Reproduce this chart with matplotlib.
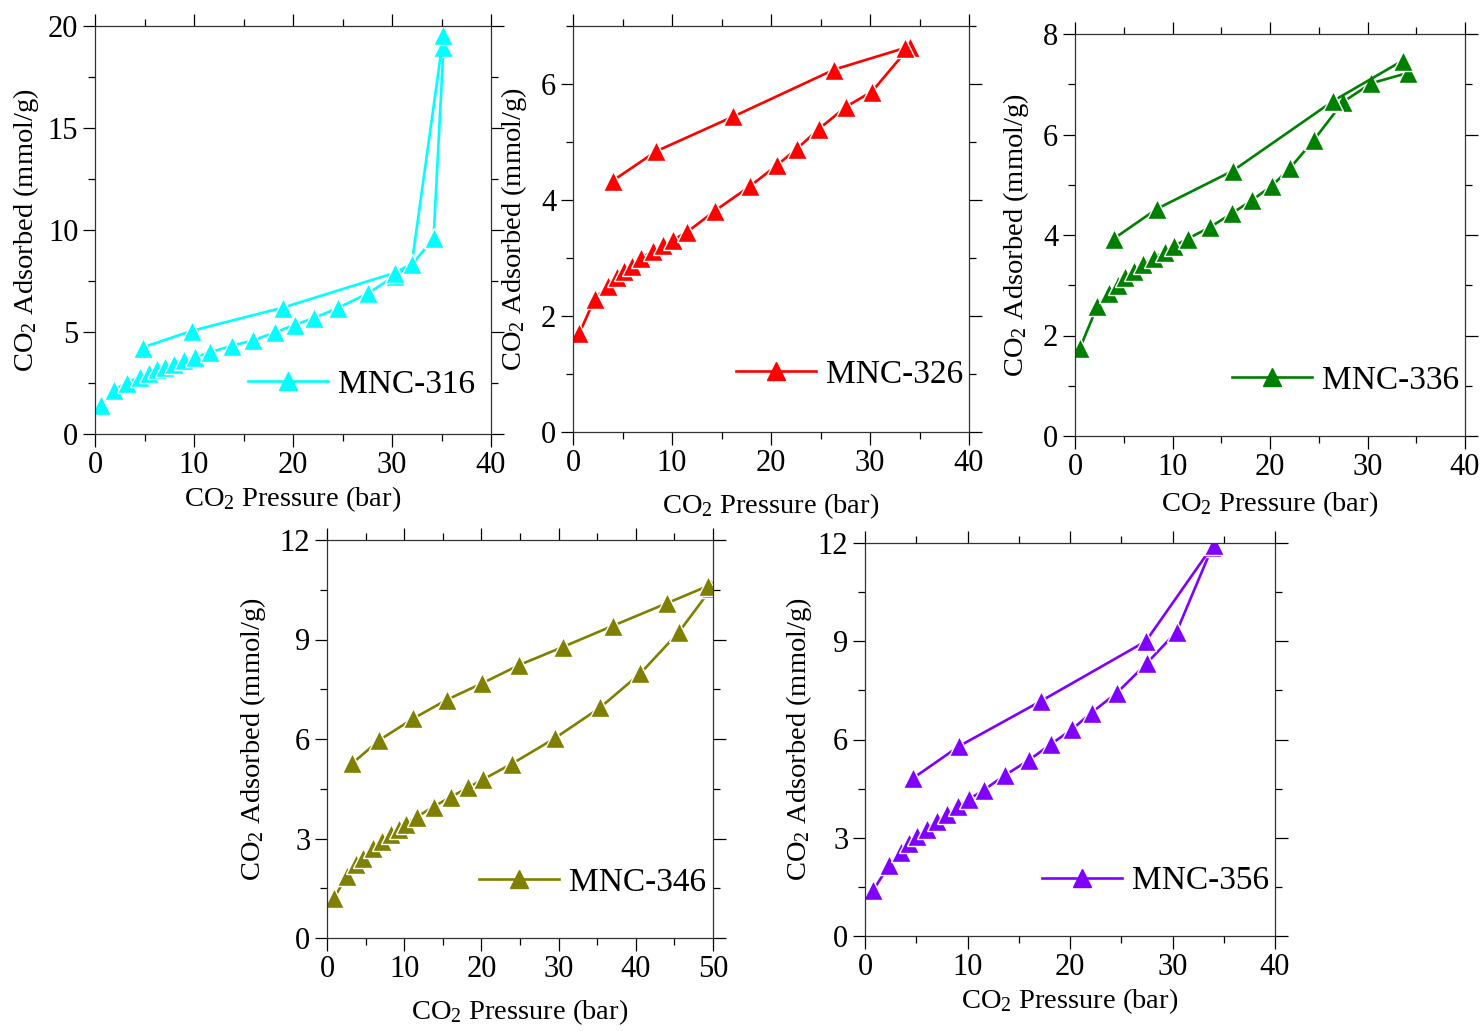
import matplotlib
matplotlib.use("Agg")
import matplotlib.pyplot as plt
from matplotlib.ticker import MultipleLocator

plt.rcParams['font.family'] = ['Liberation Serif', 'DejaVu Serif']
plt.rcParams['mathtext.fontset'] = 'custom'
plt.rcParams['mathtext.rm'] = 'Liberation Serif'
plt.rcParams['mathtext.it'] = 'Liberation Serif:italic'

# MNC-316 (cyan)
p316_ads = [0.6, 1.95, 3.2, 4.5, 5.5, 6.3, 7.1, 8.0, 9.0, 10.1, 11.6, 13.8, 16.0,
            18.2, 20.2, 22.1, 24.5, 27.6, 30.3, 32.0, 34.2, 35.2]
q316_ads = [1.4, 2.15, 2.52, 2.8, 3.0, 3.18, 3.3, 3.45, 3.62, 3.75, 4.0, 4.32, 4.6,
            4.98, 5.36, 5.68, 6.17, 6.9, 7.76, 8.29, 9.6, 18.95]
p316_des = [35.2, 32.0, 30.3, 19.0, 9.8, 4.8]
q316_des = [19.55, 8.35, 7.9, 6.2, 5.06, 4.24]

# MNC-326 (red)
p326_ads = [0.64, 2.2, 3.5, 4.4, 5.15, 6.0, 6.9, 8.05, 9.06, 10.07, 11.55, 14.3,
            17.9, 20.6, 22.6, 24.8, 27.6, 30.2, 34.0]
q326_ads = [1.70, 2.30, 2.51, 2.68, 2.77, 2.86, 3.0, 3.12, 3.22, 3.31, 3.45, 3.81,
            4.24, 4.6, 4.88, 5.22, 5.61, 5.87, 6.64]
p326_des = [33.5, 26.4, 16.2, 8.4, 4.0]
q326_des = [6.62, 6.25, 5.44, 4.84, 4.33]

# MNC-336 (green)
p336_ads = [0.51, 2.3, 3.5, 4.4, 5.1, 6.1, 7.0, 8.1, 9.2, 10.15, 11.6, 13.8, 16.1,
            18.2, 20.2, 22.05, 24.5, 27.5, 30.4, 34.2]
q336_ads = [1.75, 2.59, 2.85, 3.0, 3.16, 3.29, 3.42, 3.54, 3.67, 3.78, 3.93, 4.15,
            4.43, 4.70, 4.98, 5.33, 5.89, 6.65, 7.02, 7.23]
p336_des = [33.6, 26.5, 16.2, 8.4, 4.0]
q336_des = [7.47, 6.67, 5.28, 4.52, 3.93]

# MNC-346 (olive)
p346_ads = [0.95, 2.6, 3.76, 4.7, 6.0, 7.16, 8.3, 9.3, 10.2, 11.7, 13.8, 16.1, 18.3,
            20.2, 24.0, 29.5, 35.4, 40.6, 45.6, 49.8]
q346_ads = [1.22, 1.88, 2.22, 2.42, 2.70, 2.93, 3.14, 3.29, 3.44, 3.66, 3.96, 4.26,
            4.54, 4.78, 5.26, 6.02, 6.95, 7.98, 9.23, 10.54]
p346_des = [49.3, 44.1, 37.1, 30.6, 24.9, 20.1, 15.5, 11.2, 6.8, 3.3]
q346_des = [10.61, 10.1, 9.42, 8.78, 8.23, 7.68, 7.18, 6.62, 5.97, 5.27]

# MNC-356 (violet)
p356_ads = [0.81, 2.37, 3.5, 4.3, 5.1, 6.0, 7.0, 8.0, 9.1, 10.1, 11.6, 13.7, 16.0,
            18.1, 20.2, 22.1, 24.6, 27.5, 30.4, 33.9]
q356_ads = [1.40, 2.17, 2.57, 2.83, 3.05, 3.28, 3.51, 3.73, 3.97, 4.17, 4.46, 4.92,
            5.37, 5.85, 6.31, 6.82, 7.43, 8.33, 9.29, 11.89]
p356_des = [34.0, 27.4, 17.2, 9.2, 4.65]
q356_des = [11.95, 9.0, 7.18, 5.8, 4.81]

fig = plt.figure(figsize=(14.82, 10.31), dpi=100)

W, H = 1482, 1031


def make_axes(l, r, t, b):
    return fig.add_axes([l / W, 1 - b / H, (r - l) / W, (b - t) / H])


panels = [
    # name, color, data, box(px), xlim, ylim, ymaj, ymin, ylabel_x, xlabel_y, legend anchor
    ("MNC-316", "#00FFFF", (p316_ads, q316_ads, p316_des, q316_des),
     (95, 491, 26, 434), 40, 20, 5, 2.5, -0.136, -0.123, (1.01, 0.035)),
    ("MNC-326", "#FF0000", (p326_ads, q326_ads, p326_des, q326_des),
     (573, 969, 26, 432), 40, 7, 2, 1, -0.111, -0.145, (1.035, 0.055)),
    ("MNC-336", "#008000", (p336_ads, q336_ads, p336_des, q336_des),
     (1075, 1465, 34, 436), 40, 8, 2, 1, -0.113, -0.132, (1.035, 0.05)),
    ("MNC-346", "#808000", (p346_ads, q346_ads, p346_des, q346_des),
     (327, 713, 540, 938), 50, 12, 3, 1.5, -0.153, -0.148, (1.035, 0.05)),
    ("MNC-356", "#8000FF", (p356_ads, q356_ads, p356_des, q356_des),
     (865, 1275, 543, 936), 40, 12, 3, 1.5, -0.124, -0.127, (1.035, 0.05)),
]

for name, color, data, box, xmax, ymax, ymaj, ymin, ylx, xly, lanchor in panels:
    ax = make_axes(*box)
    pa, qa, pd, qd = data
    # white marker edge leaves a small gap between line and symbol
    style = dict(color=color, marker='^', markersize=14, linewidth=1.9,
                 markeredgecolor='white', markeredgewidth=1.0)
    ax.plot(pa, qa, **style)
    ax.plot(pd, qd, **style)
    ax.plot([], [], color=color, marker='^', markersize=13, linewidth=1.9,
            label=name)
    ax.set_xlim(0, xmax)
    ax.set_ylim(0, ymax)
    ax.xaxis.set_major_locator(MultipleLocator(10))
    ax.xaxis.set_minor_locator(MultipleLocator(5))
    ax.yaxis.set_major_locator(MultipleLocator(ymaj))
    ax.yaxis.set_minor_locator(MultipleLocator(ymin))
    ax.tick_params(which='both', direction='out', top=True, right=True,
                   labeltop=False, labelright=False, width=0.9)
    ax.tick_params(which='major', length=9, labelsize=22, pad=3)
    ax.tick_params(which='minor', length=5)
    for s in ax.spines.values():
        s.set_linewidth(0.9)
        s.set_color('#333333')
    ax.set_xlabel("CO$_2$ Pressure (bar)", fontsize=20.5)
    ax.set_ylabel("CO$_2$ Adsorbed (mmol/g)", fontsize=20.5)
    ax.xaxis.set_label_coords(0.5, xly)
    ax.yaxis.set_label_coords(ylx, 0.5)
    h, l = ax.get_legend_handles_labels()
    ax.legend(h[-1:], l[-1:], loc='lower right', bbox_to_anchor=lanchor,
              frameon=False, fontsize=24, handlelength=2.4, handletextpad=0.3,
              borderaxespad=0.2)

fig.savefig("out.png", dpi=100)
